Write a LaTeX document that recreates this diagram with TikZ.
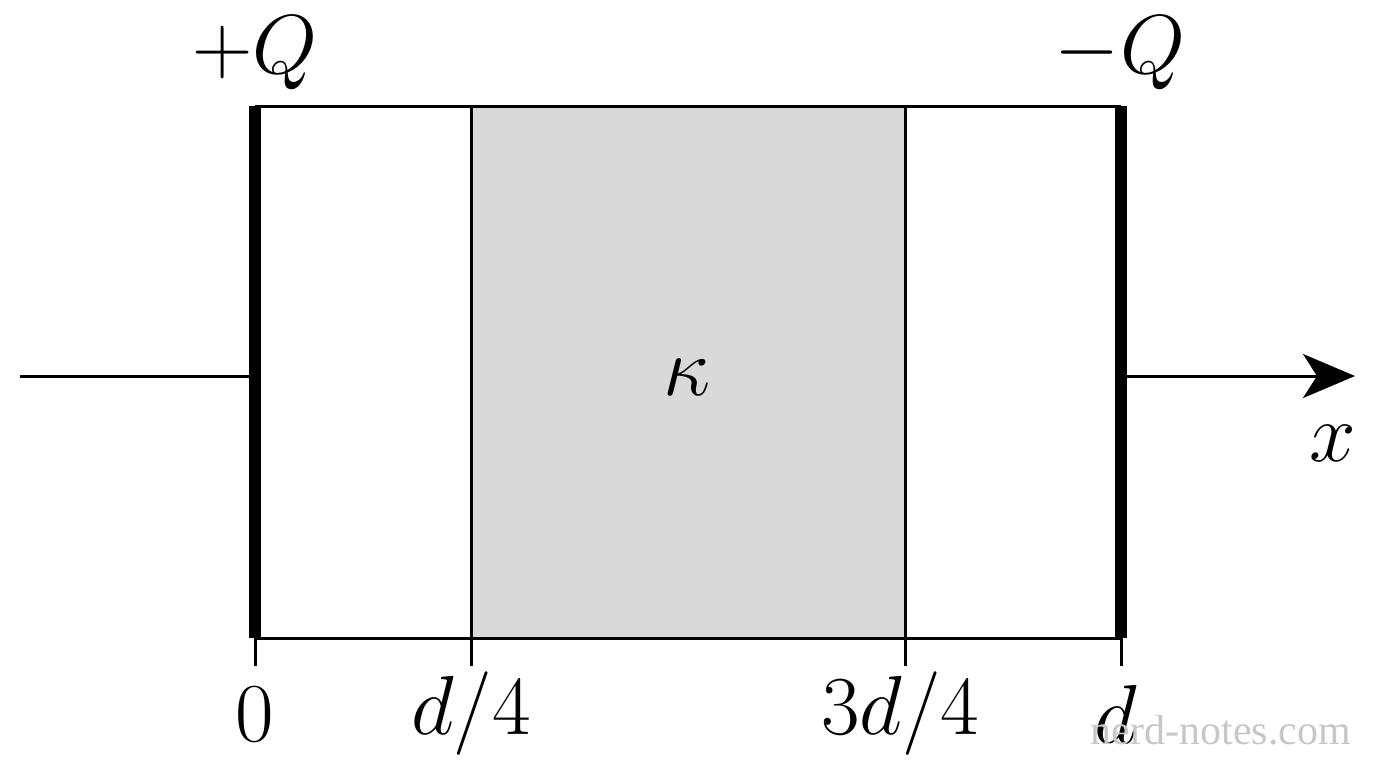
\documentclass[tikz,border=0pt]{standalone}
\usepackage{fontspec}
\newfontfamily\wmfont{Liberation Serif}
\usetikzlibrary{arrows.meta}
\definecolor{slab}{gray}{0.85}
\definecolor{wm}{gray}{0.78}
\tikzset{
  plate/.style={line width=6pt},
  thin/.style={line width=1.5pt},
  lab/.style={font=\fontsize{20}{24}\selectfont, inner sep=0pt, scale=2.02},
  tickline/.style={line width=1.5pt},
}
\begin{document}
\begin{tikzpicture}[x=0.5pt,y=-0.5pt]
\useasboundingbox (0,0) rectangle (1376,768);
% dielectric slab
\fill[slab] (471,106) rectangle (905,638);
% box outline
\draw[thin] (255,106) -- (1121,106);
\draw[thin] (255,638) -- (1121,638);
\draw[thin] (471,106) -- (471,638);
\draw[thin] (905,106) -- (905,638);
% coordinates
\coordinate (pl1t) at (255,106);
\coordinate (pl1b) at (255,638);
\coordinate (pl2t) at (1121,106);
\coordinate (pl2b) at (1121,638);
\coordinate (axL) at (20,376);
\coordinate (axA) at (255,376);
\coordinate (axB) at (1121,376);
\coordinate (axR) at (1355,376);
% axis
\draw[thin] (axL) -- (axA);
\draw[thin, -{Stealth[length=26pt,width=22pt,inset=7pt]}] (axB) -- (axR);
% plates
\draw[plate] (pl1t) -- (pl1b);
\draw[plate] (pl2t) -- (pl2b);
% ticks
\foreach \n/\xx in {t0/255, t1/471, t3/905, t4/1121}{
  \coordinate (\n a) at (\xx,638);
  \coordinate (\n b) at (\xx,666);
  \draw[tickline] (\n a) -- (\n b);
}
% labels
\node[lab] (l0) at (255,714) {$0$};
\node[lab] (l1) at (471,714) {$d/4$};
\node[lab] (l3) at (900,714) {$3d/4$};
\node[lab] (l4) at (1116,714) {$d$};
\node[lab] (pq) at (255,53) {$+Q$};
\node[lab] (mq) at (1120,53) {$-Q$};
\node[lab, line width=0.6pt, draw=none] (kap) at (687,377) {$\kappa$};
\node[lab] (xl) at (1333,443) {$x$};
\node[inner sep=0pt, text=wm, font=\wmfont\fontsize{21}{24}\selectfont] (wmk) at (1221,730) {nerd-notes.com};
\end{tikzpicture}
\end{document}
